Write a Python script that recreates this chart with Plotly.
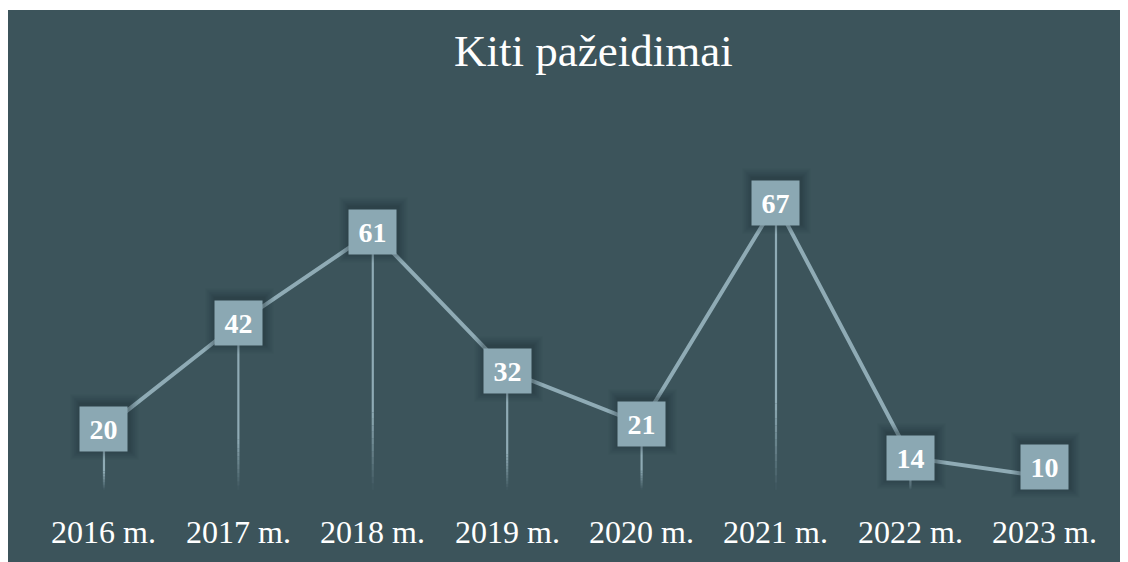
import plotly.graph_objects as go

# ---- data ----
years = ["2016 m.", "2017 m.", "2018 m.", "2019 m.", "2020 m.", "2021 m.", "2022 m.", "2023 m."]
values = [20, 42, 61, 32, 21, 67, 14, 10]
title_text = "Kiti pažeidimai"

# ---- style ----
BG = "#3C545B"
LINE = "#8FABB5"
BOX = "#8BA8B3"
FONT = "Liberation Serif"
OFF = 8                      # page body margin
W, H = 1120, 554
ML, MT = 0, 2
PW, PH = W - ML, H - MT
XR = [-0.714, 7.619]
YR = [-7.7, 107.1]
DROP_BASE = 7.3
BOX_W, BOX_H = 47, 44
BOX_BOTTOM_LIMIT = 489  # page px from top

idx = list(range(len(years)))

def ypix(v):
    return OFF + MT + (YR[1] - v) / (YR[1] - YR[0]) * PH

fig = go.Figure()

# drop lines with fading end
NSEG = 12
for i, v in zip(idx, values):
    top, bot = v, DROP_BASE
    if top <= bot:
        continue
    fade_start = top - 0.7 * (top - bot)
    fig.add_trace(go.Scatter(x=[i, i], y=[top, fade_start], mode="lines",
                             line=dict(color=LINE, width=2.2), hoverinfo="skip", showlegend=False))
    for k in range(NSEG):
        y0 = fade_start - (fade_start - bot) * k / NSEG
        y1 = fade_start - (fade_start - bot) * (k + 1) / NSEG
        a = 1 - (k + 0.5) / NSEG
        fig.add_trace(go.Scatter(x=[i, i], y=[y0, y1], mode="lines",
                                 line=dict(color=f"rgba(143,171,181,{a:.3f})", width=2.2),
                                 hoverinfo="skip", showlegend=False))

# main line
fig.add_trace(go.Scatter(x=idx, y=values, mode="lines",
                         line=dict(color=LINE, width=4), hoverinfo="skip", showlegend=False))

annotations = []
# label boxes with shadow
for i, v in zip(idx, values):
    p = ypix(v)
    shift = max(0.0, p + BOX_H / 2 - BOX_BOTTOM_LIMIT)
    for k, a in [(10, 0.05), (8, 0.06), (6, 0.08), (4, 0.10), (2, 0.14)]:
        annotations.append(dict(x=i, y=v, xref="x", yref="y", text="", showarrow=False,
                                width=BOX_W + 2 * k, height=BOX_H + 2 * k, borderpad=0,
                                bgcolor=f"rgba(25,40,45,{a})", xanchor="center", yanchor="middle",
                                xshift=1, yshift=shift + 2))
    annotations.append(dict(x=i, y=v, xref="x", yref="y", text=f"<b>{v}</b>", showarrow=False,
                            width=BOX_W, height=BOX_H, borderpad=0, bgcolor=BOX,
                            font=dict(family=FONT, size=28, color="white"),
                            xanchor="center", yanchor="middle", yshift=shift))

# category labels
for i, lab in zip(idx, years):
    annotations.append(dict(x=i, y=(H + OFF - 532) / PH, xref="x", yref="paper", text=lab,
                            showarrow=False, font=dict(family=FONT, size=32, color="white"),
                            xanchor="center", yanchor="middle"))

# title
annotations.append(dict(x=(593 - OFF - ML) / PW, y=(H + OFF - 51) / PH, xref="paper", yref="paper",
                        text=title_text, showarrow=False,
                        font=dict(family=FONT, size=45, color="white"),
                        xanchor="center", yanchor="middle"))

fig.update_layout(
    width=W, height=H,
    margin=dict(l=ML, t=MT, r=0, b=0, pad=0),
    paper_bgcolor="white", plot_bgcolor=BG,
    xaxis=dict(range=XR, visible=False, fixedrange=True),
    yaxis=dict(range=YR, visible=False, fixedrange=True),
    annotations=annotations,
    showlegend=False,
)

fig.write_html("out.html")
